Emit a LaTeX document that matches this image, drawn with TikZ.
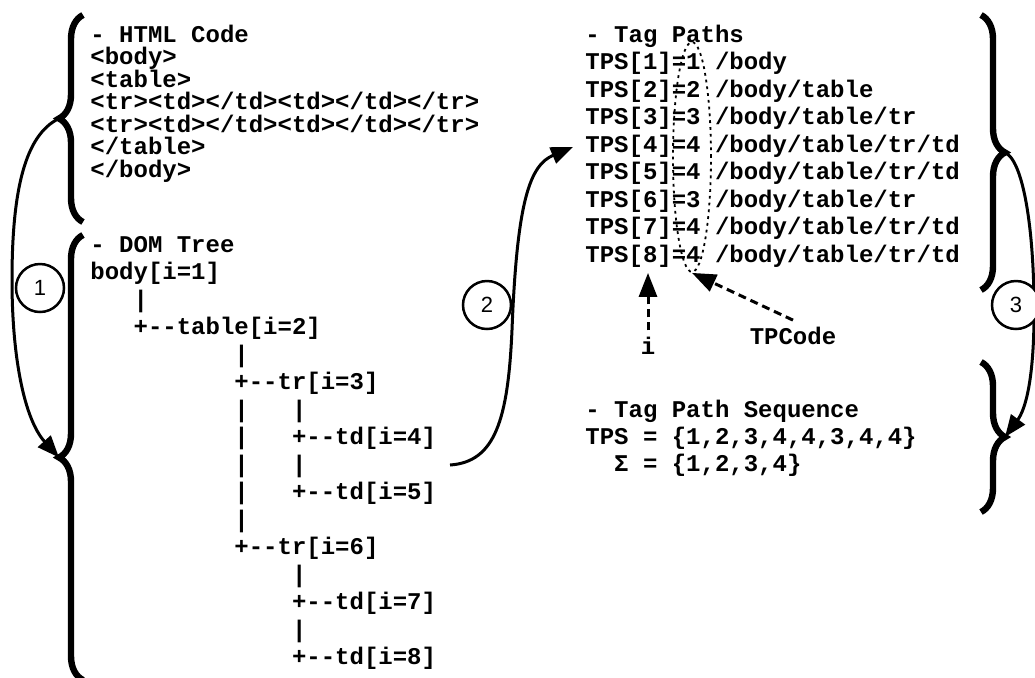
\documentclass[tikz,border=0pt]{standalone}
\usepackage{fontspec}
\setmonofont{Liberation Mono}
\setsansfont{Liberation Sans}
\usetikzlibrary{arrows.meta,decorations.pathreplacing,shapes.geometric}

\tikzset{
  codeblock/.style={font=\ttfamily\bfseries\fontsize{12}{#1}\selectfont,
    align=left, anchor=base west, inner sep=0pt},
  bigbrace/.style={decorate, decoration={brace, amplitude=12pt}, line width=3.2pt},
  flow/.style={line width=1.5pt, -{Triangle[length=11pt,width=8.5pt]}},
  pointer/.style={line width=1.5pt, dash pattern=on 4pt off 2.5pt,
    -{Triangle[length=12pt,width=9pt]}},
  stepmark/.style={draw, circle, line width=1.25pt, minimum size=24pt,
    inner sep=0pt, fill=white, font=\sffamily\fontsize{11}{13}\selectfont},
}

\begin{document}
\begin{tikzpicture}[x=0.5pt,y=-0.5pt]
\useasboundingbox (0,0) rectangle (1035,677);

% source and tree (placed by the baseline of the last line)
\node[codeblock=11.25] (html) at (90,177) {- HTML Code\\<body>\\<table>\\<tr><td></td><td></td></tr>\\<tr><td></td><td></td></tr>\\</table>\\</body>};
\node[codeblock=13.75] (dom) at (90,664.5) {- DOM Tree\\
body[i=1]\\
~~~|\\
~~~+--table[i=2]\\
~~~~~~~~~~|\\
~~~~~~~~~~+--tr[i=3]\\
~~~~~~~~~~|~~~|\\
~~~~~~~~~~|~~~+--td[i=4]\\
~~~~~~~~~~|~~~|\\
~~~~~~~~~~|~~~+--td[i=5]\\
~~~~~~~~~~|\\
~~~~~~~~~~+--tr[i=6]\\
~~~~~~~~~~~~~~|\\
~~~~~~~~~~~~~~+--td[i=7]\\
~~~~~~~~~~~~~~|\\
~~~~~~~~~~~~~~+--td[i=8]};

% tag paths
\node[codeblock=13.75] (paths) at (585,262) {- Tag Paths\\
TPS[1]=1 /body\\
TPS[2]=2 /body/table\\
TPS[3]=3 /body/table/tr\\
TPS[4]=4 /body/table/tr/td\\
TPS[5]=4 /body/table/tr/td\\
TPS[6]=3 /body/table/tr\\
TPS[7]=4 /body/table/tr/td\\
TPS[8]=4 /body/table/tr/td};
\node[codeblock=13.5] (seq) at (585,471) {- Tag Path Sequence\\
TPS = \{1,2,3,4,4,3,4,4\}\\
~~Σ = \{1,2,3,4\}};

\node[draw, ellipse, dash pattern=on 1.4pt off 2pt, line width=0.9pt,
  minimum width=19pt, minimum height=115pt, inner sep=0pt] (ring) at (692,157) {};
\node[font=\ttfamily\bfseries\fontsize{12}{14}\selectfont] (idx) at (648,346) {i};
\node[font=\ttfamily\bfseries\fontsize{12}{14}\selectfont] (tpclabel) at (793,336) {TPCode};
\draw[pointer] (idx) -- (idx |- ring.south);
\draw[pointer] (tpclabel.north) -- (ring.south);

% braces
\coordinate (htmltip) at (59,118.5);
\coordinate (domtip) at (59,457.5);
\coordinate (pathtip) at (1005,152.5);
\coordinate (seqtip) at (1005,437);
\coordinate (td4end) at (450,465);
\draw[bigbrace] (83,222) -- (83,15);
\draw[bigbrace] (83,680) -- (83,235);
\draw[bigbrace] (981,15) -- (981,290);
\draw[bigbrace] (981,362) -- (981,512);

% steps
\draw[flow] (htmltip) .. controls (25,135) and (12,190) .. (12,280)
  .. controls (12,360) and (25,420) .. (domtip);
\draw[flow] (td4end) .. controls (495,462) and (508,420) .. (512,330)
  .. controls (517,200) and (530,165) .. (573,147);
\draw[flow] (pathtip) .. controls (1022,160) and (1033,220) .. (1034,300)
  .. controls (1035,380) and (1025,410) .. (seqtip);
\node[stepmark] (s1) at (40,288) {1};
\node[stepmark] (s2) at (487,305) {2};
\node[stepmark] (s3) at (1016,305) {3};
\end{tikzpicture}
\end{document}
